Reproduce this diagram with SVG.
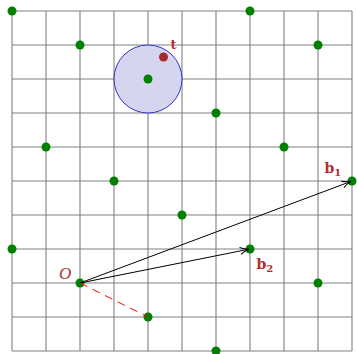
<svg xmlns="http://www.w3.org/2000/svg" width="357" height="354" viewBox="0 0 357 354">
<defs>
<style>
.grid line{stroke:#808080;stroke-width:1.1}
.pt{fill:#008000}
.lbl{font-family:"DejaVu Serif","Liberation Serif",serif;font-weight:bold;fill:#b03030}
.vec{stroke:#000;stroke-width:1;fill:none}
</style>
<marker id="arr" markerWidth="10" markerHeight="8" refX="9" refY="4" orient="auto" markerUnits="userSpaceOnUse">
<path d="M0,0.5 Q4,3 9,4 Q4,5 0,7.5" fill="none" stroke="#000" stroke-width="1"/>
</marker>
</defs>
<rect width="357" height="354" fill="#fff"/>
<g class="grid" id="grid">
<line x1="12" y1="11" x2="12" y2="351"/>
<line x1="46" y1="11" x2="46" y2="351"/>
<line x1="80" y1="11" x2="80" y2="351"/>
<line x1="114" y1="11" x2="114" y2="351"/>
<line x1="148" y1="11" x2="148" y2="351"/>
<line x1="182" y1="11" x2="182" y2="351"/>
<line x1="216" y1="11" x2="216" y2="351"/>
<line x1="250" y1="11" x2="250" y2="351"/>
<line x1="284" y1="11" x2="284" y2="351"/>
<line x1="318" y1="11" x2="318" y2="351"/>
<line x1="352" y1="11" x2="352" y2="351"/>
<line x1="12" y1="11" x2="352" y2="11"/>
<line x1="12" y1="45" x2="352" y2="45"/>
<line x1="12" y1="79" x2="352" y2="79"/>
<line x1="12" y1="113" x2="352" y2="113"/>
<line x1="12" y1="147" x2="352" y2="147"/>
<line x1="12" y1="181" x2="352" y2="181"/>
<line x1="12" y1="215" x2="352" y2="215"/>
<line x1="12" y1="249" x2="352" y2="249"/>
<line x1="12" y1="283" x2="352" y2="283"/>
<line x1="12" y1="317" x2="352" y2="317"/>
<line x1="12" y1="351" x2="352" y2="351"/>
</g>
<g id="ball">
<circle cx="148" cy="79" r="34" fill="#d5d5f0" stroke="#3333cc" stroke-width="1"/>
</g>
<g id="points">
<circle class="pt" cx="12" cy="11" r="4.5"/>
<circle class="pt" cx="80" cy="45" r="4.5"/>
<circle class="pt" cx="250" cy="11" r="4.5"/>
<circle class="pt" cx="318" cy="45" r="4.5"/>
<circle class="pt" cx="148" cy="79" r="4.5"/>
<circle class="pt" cx="216" cy="113" r="4.5"/>
<circle class="pt" cx="46" cy="147" r="4.5"/>
<circle class="pt" cx="284" cy="147" r="4.5"/>
<circle class="pt" cx="114" cy="181" r="4.5"/>
<circle class="pt" cx="352" cy="181" r="4.5"/>
<circle class="pt" cx="182" cy="215" r="4.5"/>
<circle class="pt" cx="12" cy="249" r="4.5"/>
<circle class="pt" cx="250" cy="249" r="4.5"/>
<circle class="pt" cx="80" cy="283" r="4.5"/>
<circle class="pt" cx="318" cy="283" r="4.5"/>
<circle class="pt" cx="148" cy="317" r="4.5"/>
<circle class="pt" cx="216" cy="351" r="4.5"/>
</g>
<g id="target">
<circle cx="163.5" cy="57" r="4.5" fill="#a52a2a"/>
<text class="lbl" x="170.5" y="48.5" font-size="13">t</text>
</g>
<g id="connectors">
<line class="vec" x1="80" y1="283" x2="351" y2="181.4" marker-end="url(#arr)"/>
<line class="vec" x1="80" y1="283" x2="249" y2="249.2" marker-end="url(#arr)"/>
<line x1="80" y1="283" x2="148" y2="317" stroke="#ff0000" stroke-width="1" stroke-dasharray="8,6"/>
</g>
<g id="labels">
<text class="lbl" x="324.5" y="173" font-size="14">b<tspan font-size="10" dy="2.5">1</tspan></text>
<text class="lbl" x="256.5" y="269" font-size="14">b<tspan font-size="10" dy="2.5">2</tspan></text>
<text x="59" y="279" font-family="'Liberation Serif','DejaVu Serif',serif" font-style="italic" font-size="17" fill="#b03030">O</text>
</g>
</svg>
